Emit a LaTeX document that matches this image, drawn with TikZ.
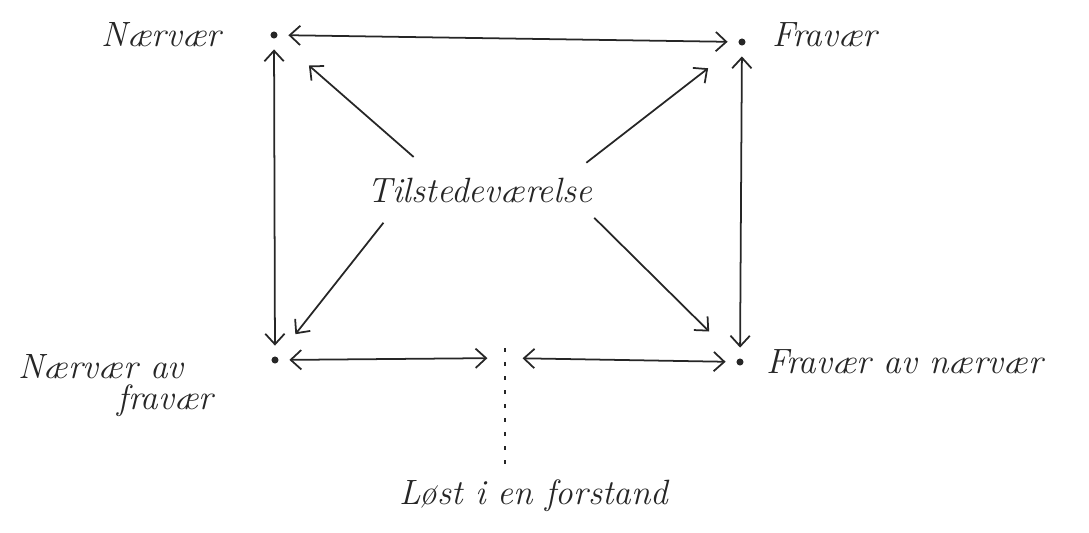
\documentclass[tikz,border=0pt]{standalone}
\usepackage{tikz}
\usetikzlibrary{positioning, arrows.meta}

\begin{document}
\begin{tikzpicture}[
      dot/.style={circle, fill=black!85, inner sep=0pt, minimum size=4pt},
      lbl/.style={font=\itshape\fontsize{20}{24}\selectfont, text=black!85, inner sep=2pt},
      arr/.style={<->, >={Straight Barb[length=6pt, width=11pt]}, line width=1pt, draw=black!85, shorten <=6pt, shorten >=6pt},
      pil/.style={->, >={Straight Barb[length=6pt, width=11pt]}, line width=1pt, draw=black!85},
      node distance=0.4cm
  ]
  \useasboundingbox (0,0) rectangle (21.78,-10.64);

  % the four corners
  \node[dot] (naervaer) at (5.48,-0.70) {};
  \node[dot] (fravaer) at (14.84,-0.84) {};
  \node[dot] (nva) at (5.50,-7.20) {};
  \node[dot] (fvn) at (14.80,-7.24) {};
  \coordinate (midt) at (10.10,-7.16);

  \node[lbl, left=0.9cm of naervaer] (naervaerlbl) {Nærvær};
  \node[lbl, right=0.45cm of fravaer, yshift=4pt] (fravaerlbl) {Fravær};
  \node[lbl, align=right, below left=-0.25cm and 1.1cm of nva] (nvalbl) {Nærvær av\hspace*{0.6cm}\\[-6pt]fravær};
  \node[lbl, right=0.37cm of fvn] (fvnlbl) {Fravær av nærvær};

  \node[lbl] (tilst) at (9.60,-3.80) {Tilstedeværelse};
  \node[lbl] (lost) at (10.68,-9.92) {Løst i en forstand};

  % sides of the square
  \draw[arr] (naervaer) -- (fravaer);
  \draw[arr] (naervaer) -- (nva);
  \draw[arr] (fravaer) -- (fvn);
  \draw[arr, shorten >=10pt] (nva) -- (midt);
  \draw[arr, shorten <=10pt] (midt) -- (fvn);
  \draw[line width=1pt, draw=black!85, dash pattern=on 2pt off 6pt, shorten >=0.2cm]
    ([yshift=0.2cm]midt) -- (midt |- lost.north);

  % from the centre
  \draw[pil, shorten <=0.51cm, shorten >=0.85cm] (tilst.161) -- (naervaer);
  \draw[pil, shorten <=0.36cm, shorten >=0.78cm] (tilst.10) -- (fravaer);
  \draw[pil, shorten <=0.42cm, shorten >=0.58cm] (tilst.191) -- (nva);
  \draw[pil, shorten <=0.33cm, shorten >=0.79cm] (tilst.351) -- (fvn);
\end{tikzpicture}
\end{document}
